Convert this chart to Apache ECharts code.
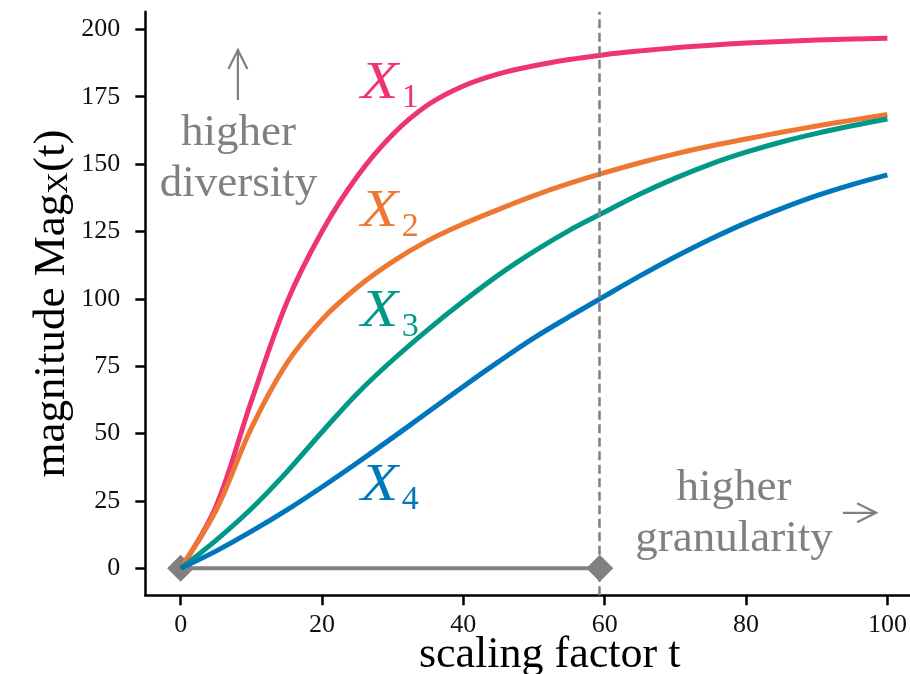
<!DOCTYPE html>
<html><head><meta charset="utf-8">
<script src="https://cdn.jsdelivr.net/npm/echarts@6/dist/echarts.min.js"></script>
<style>html,body{margin:0;padding:0;background:#fff}#c{width:910px;height:674px}</style>
</head><body><div id="c"></div>
<script>
// ---- data ----
const tValues  = [0, 5, 10, 15, 20, 25, 30, 35, 40, 45, 50, 55, 60, 65, 70, 75, 80, 85, 90, 95, 100];
const x1Values = [0, 23, 62, 98.5, 125, 145.5, 161, 172, 179, 183.5, 186.5, 188.8, 190.6, 192, 193.2, 194.1, 194.9, 195.5, 196, 196.4, 196.7];
const x2Values = [0, 21.5, 52, 76, 92.3, 104.3, 113.8, 121.6, 127.8, 133.2, 138.3, 142.8, 146.8, 150.5, 153.8, 156.7, 159.3, 161.8, 164.1, 166.3, 168.4];
const x3Values = [0, 10.4, 22.1, 35.7, 50.6, 64.9, 77.3, 88.6, 99.1, 108.9, 117.6, 125.4, 132.2, 138.9, 144.8, 150, 154.4, 158.2, 161.4, 164.2, 166.7];
const x4Values = [0, 6.4, 13.7, 21.6, 30.2, 39.2, 48.5, 58, 67.5, 76.7, 85.5, 93.4, 101, 108.5, 115.6, 122.2, 128.2, 133.5, 138.3, 142.4, 146];
const seriesNames = ['X1', 'X2', 'X3', 'X4'];
const seriesSubs  = ['1', '2', '3', '4'];
const xTicks = [0, 20, 40, 60, 80, 100];
const yTicks = [0, 25, 50, 75, 100, 125, 150, 175, 200];
const cutoffT = 59.3;
const markerT = [0, 59.3];
const markerY = [0, 0];
const xAxisTitle = 'scaling factor t';
const yAxisTitle = ['magnitude Mag', 'X', '(t)'];
const noteUp = 'higher\ndiversity';
const noteRight = 'higher\ngranularity';

// ---- annotation anchors (data coordinates) ----
const labelAnchorT = 25.5;
const labelAnchorY = [173.1, 125.5, 88.4, 24.1];
const noteUpPos = [8.2, 152];
const arrowUp = [[8.1, 173.8], [8.1, 192.3]];
const noteRightPos = [78.3, 20.4];
const arrowRight = [[93.7, 20.6], [98.4, 20.6]];

// ---- styles ----
const colors = ['#EE3377', '#EE7733', '#009988', '#0077BB'];
const gray = '#808080';
const serif = 'Liberation Serif';

const chart = echarts.init(document.getElementById('c'), null, {renderer: 'canvas'});
const allSeries = [x1Values, x2Values, x3Values, x4Values];

const option = {
  backgroundColor: '#fff',
  animation: false,
  grid: {left: 145.3, right: 0, top: 11.8, bottom: 78.7, outerBoundsMode: 'none', containLabel: false},
  xAxis: {
    type: 'value', min: -5, max: 103.2,
    name: xAxisTitle, nameLocation: 'middle', nameGap: 38, nameMoveOverlap: false,
    nameTextStyle: {fontFamily: serif, fontSize: 44, color: '#000', padding: [0, 0, 0, 44]},
    axisLine: {show: true, onZero: false, lineStyle: {color: '#000', width: 2.5}},
    axisTick: {show: true, inside: false, length: 10, lineStyle: {color: '#000', width: 2.5}, customValues: xTicks},
    axisLabel: {fontFamily: serif, fontSize: 26, color: '#111', margin: 17, customValues: xTicks},
    splitLine: {show: false}
  },
  yAxis: {
    type: 'value', min: -10, max: 206.5,
    name: '{m|' + yAxisTitle[0] + '}{s|' + yAxisTitle[1] + '}{m|' + yAxisTitle[2] + '}',
    nameLocation: 'middle', nameGap: 71, nameRotate: 90, nameMoveOverlap: false,
    nameTextStyle: {fontFamily: serif, fontSize: 45, color: '#000',
      rich: {m: {fontFamily: serif, fontSize: 45, color: '#000'},
             s: {fontFamily: serif, fontSize: 30, color: '#000', verticalAlign: 'bottom'}}},
    axisLine: {show: true, onZero: false, lineStyle: {color: '#000', width: 2.5}},
    axisTick: {show: true, inside: false, length: 10, lineStyle: {color: '#000', width: 2.5}, customValues: yTicks},
    axisLabel: {fontFamily: serif, fontSize: 26, color: '#111', margin: 25, customValues: yTicks},
    splitLine: {show: false}
  },
  series: [
    {
      type: 'line', name: 'range', z: 1,
      data: markerT.map((t, i) => [t, markerY[i]]),
      symbol: 'diamond', symbolSize: 27, showSymbol: true,
      itemStyle: {color: gray}, lineStyle: {color: gray, width: 4},
      markLine: {
        silent: true, symbol: ['none', 'none'], z: 4, label: {show: false},
        lineStyle: {color: gray, width: 2.5, type: [9, 4.5]},
        data: [{xAxis: cutoffT}]
      }
    }
  ].concat(allSeries.map((vals, i) => ({
    type: 'line', name: seriesNames[i], z: 2,
    data: tValues.map((t, j) => [t, vals[j]]),
    showSymbol: false, smooth: 0.35,
    lineStyle: {color: colors[i], width: 5}, itemStyle: {color: colors[i]}
  })))
};
chart.setOption(option);

function px(t, y) { return chart.convertToPixel({gridIndex: 0}, [t, y]); }
const graphics = [];
// series labels X_i
labelAnchorY.forEach((y, i) => {
  const p = px(labelAnchorT, y);
  const F = 52;
  graphics.push({type: 'text', x: p[0], y: p[1] - 0.3375 * F, scaleX: 1.18, silent: true,
    style: {text: 'X', fontFamily: serif, fontStyle: 'italic', fontWeight: 'normal', fontSize: F, fill: colors[i], align: 'left', verticalAlign: 'middle'}});
  const S = 34;
  graphics.push({type: 'text', x: p[0] + 41, y: p[1] + 8 - 0.3375 * S, silent: true,
    style: {text: seriesSubs[i], fontFamily: serif, fontSize: S, fill: colors[i], align: 'left', verticalAlign: 'middle'}});
});
// notes
const nu = px(noteUpPos[0], noteUpPos[1]);
graphics.push({type: 'text', x: nu[0], y: nu[1], silent: true,
  style: {text: noteUp, fontFamily: serif, fontSize: 45, lineHeight: 51, fill: gray, align: 'center', verticalAlign: 'middle'}});
const nr = px(noteRightPos[0], noteRightPos[1]);
graphics.push({type: 'text', x: nr[0], y: nr[1], silent: true,
  style: {text: noteRight, fontFamily: serif, fontSize: 45, lineHeight: 51, fill: gray, align: 'center', verticalAlign: 'middle'}});
// arrows
function arrow(a, b) {
  const p0 = px(a[0], a[1]), p1 = px(b[0], b[1]);
  const dx = p1[0] - p0[0], dy = p1[1] - p0[1];
  const len = Math.hypot(dx, dy), ux = dx / len, uy = dy / len;
  const hl = 19, hw = 9.5;
  const bx = p1[0] - ux * hl, by = p1[1] - uy * hl;
  graphics.push({type: 'polyline', silent: true, shape: {points: [p0, p1]}, style: {stroke: gray, lineWidth: 2.2, fill: null}});
  graphics.push({type: 'polyline', silent: true,
    shape: {points: [[bx - uy * hw, by + ux * hw], p1, [bx + uy * hw, by - ux * hw]]},
    style: {stroke: gray, lineWidth: 2.2, fill: null}});
}
arrow(arrowUp[0], arrowUp[1]);
arrow(arrowRight[0], arrowRight[1]);
chart.setOption({graphic: graphics});
</script></body></html>
